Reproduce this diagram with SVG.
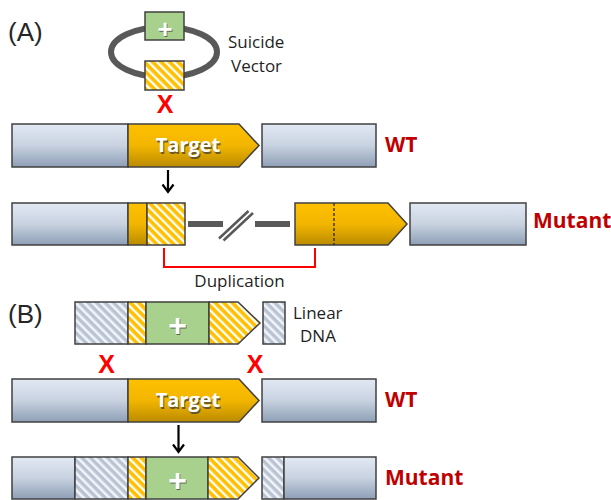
<svg xmlns="http://www.w3.org/2000/svg" width="611" height="500" viewBox="0 0 611 500">
<style>
.box{stroke:#404040;stroke-width:1.5}
.blue{fill:url(#gBlue)}
.yel{fill:url(#gYel)}
.hy{fill:url(#pHy)}
.hg{fill:url(#pHg)}
.grn{fill:#a9d18e}
.lbl{font-family:"Open Sans","Liberation Sans",sans-serif;font-size:17px;fill:#1f1f1f}
.red{font-family:"Open Sans","Liberation Sans",sans-serif;font-size:21px;font-weight:bold;fill:#c00000}
.panel{font-family:"Liberation Sans",Arial,sans-serif;font-size:26px;fill:#262626}
.x{font-family:"Liberation Sans",Arial,sans-serif;font-size:25px;font-weight:bold;fill:#ff0000;text-anchor:middle}
.tg{font-family:"Open Sans","Liberation Sans",sans-serif;font-size:20px;font-weight:bold;text-anchor:middle}
.pl{font-family:"Liberation Sans",Arial,sans-serif;font-weight:bold;text-anchor:middle}
.sh{fill:#3a3a3a;opacity:0.7}
.wh{fill:#ffffff}
.arr{stroke:#000;stroke-width:2.2;fill:none}
</style>
<defs>
<linearGradient id="gBlue" x1="0" y1="0" x2="0" y2="1">
<stop offset="0" stop-color="#e1e9f4"/>
<stop offset="0.5" stop-color="#c8d2e0"/>
<stop offset="1" stop-color="#8e9fb6"/>
</linearGradient>
<linearGradient id="gYel" x1="0" y1="0" x2="0" y2="1">
<stop offset="0" stop-color="#ffc000"/>
<stop offset="0.5" stop-color="#f2b600"/>
<stop offset="1" stop-color="#bb8b00"/>
</linearGradient>
<pattern id="pHy" width="6" height="6" patternUnits="userSpaceOnUse" patternTransform="rotate(-45)">
<rect width="6" height="6" fill="#ffc000"/>
<rect width="2.3" height="6" fill="#ffffff"/>
</pattern>
<pattern id="pHg" width="6" height="6" patternUnits="userSpaceOnUse" patternTransform="rotate(-45)">
<rect width="6" height="6" fill="#b8c3d4"/>
<rect width="2.6" height="6" fill="#f2f4f8"/>
</pattern>
</defs>

<text class="panel" x="8" y="41">(A)</text>
<text class="panel" x="8" y="323">(B)</text>

<g id="vector">
<ellipse cx="164" cy="52" rx="53" ry="25" fill="none" stroke="#595959" stroke-width="6"/>
<rect class="box grn" x="145" y="12" width="39" height="28"/>
<text class="pl sh" x="165.8" y="39" font-size="26">+</text>
<text class="pl wh" x="165" y="38" font-size="26">+</text>
<rect class="box hy" x="145" y="61" width="39" height="29"/>
<text class="lbl" x="228" y="48">Suicide</text>
<text class="lbl" x="231" y="72">Vector</text>
</g>
<text class="x" x="165" y="113">X</text>

<g id="wtA">
<rect class="box blue" x="12" y="124" width="116" height="43"/>
<polygon class="box yel" points="128,124 239,124 259,145.5 239,167 128,167"/>
<text class="tg sh" x="189" y="153.5">Target</text>
<text class="tg wh" x="188" y="152.3">Target</text>
<rect class="box blue" x="262" y="124" width="114" height="43"/>
<text class="red" x="385" y="152">WT</text>
</g>

<g id="mutantA">
<rect class="box blue" x="12" y="203" width="116" height="42"/>
<rect class="box yel" x="128" y="203" width="19" height="42"/>
<rect class="box hy" x="147" y="203" width="38" height="42"/>
<rect x="188" y="221" width="35" height="6" fill="#595959"/>
<line x1="219" y1="238.5" x2="248.5" y2="211" stroke="#595959" stroke-width="2.5"/>
<line x1="223.5" y1="240.5" x2="253" y2="213" stroke="#595959" stroke-width="2.5"/>
<rect x="255" y="221" width="35" height="6" fill="#595959"/>
<polygon class="box yel" points="295,203 388,203 407,224 388,245 295,245"/>
<line x1="334" y1="203" x2="334" y2="245" stroke="#1a1a1a" stroke-width="1.2" stroke-dasharray="3,2"/>
<rect class="box blue" x="410" y="203" width="116" height="42"/>
<text class="red" x="533" y="228">Mutant</text>
</g>

<g id="duplication">
<path d="M164 248 V267 H315 V248" fill="none" stroke="#ff0000" stroke-width="2"/>
<text class="lbl" x="239.5" y="287" text-anchor="middle">Duplication</text>
</g>

<g id="linearDNA">
<rect class="box hg" x="75" y="302" width="53" height="42" stroke="#6d6d6d"/>
<rect class="box hy" x="128" y="302" width="18" height="42"/>
<rect class="box grn" x="146" y="302" width="63" height="42"/>
<text class="pl sh" x="178.3" y="337" font-size="32">+</text>
<text class="pl wh" x="177.5" y="336" font-size="32">+</text>
<polygon class="box hy" points="209,302 238,302 260,323 238,344 209,344"/>
<rect class="box hg" x="263" y="302" width="22" height="42"/>
<text class="lbl" x="293" y="319">Linear</text>
<text class="lbl" x="300" y="342">DNA</text>
</g>
<text class="x" x="106.5" y="373">X</text>
<text class="x" x="255" y="373">X</text>

<g id="wtB">
<rect class="box blue" x="12" y="379" width="116" height="43"/>
<polygon class="box yel" points="128,379 239,379 259,400.5 239,422 128,422"/>
<text class="tg sh" x="189" y="408.5">Target</text>
<text class="tg wh" x="188" y="407.3">Target</text>
<rect class="box blue" x="262" y="379" width="114" height="43"/>
<text class="red" x="385" y="407">WT</text>
</g>

<g id="mutantB">
<rect class="box blue" x="12" y="457" width="63" height="42"/>
<rect class="box hg" x="75" y="457" width="53" height="42"/>
<rect class="box hy" x="128" y="457" width="18" height="42"/>
<rect class="box grn" x="146" y="457" width="62" height="42"/>
<text class="pl sh" x="178.3" y="492" font-size="32">+</text>
<text class="pl wh" x="177.5" y="491" font-size="32">+</text>
<polygon class="box hy" points="208,457 238,457 259,478 238,499 208,499"/>
<rect class="box hg" x="262" y="457" width="22" height="42"/>
<rect class="box blue" x="284" y="457" width="92" height="42"/>
<text class="red" x="385" y="485">Mutant</text>
</g>

<g id="connectors">
<path class="arr" d="M168 170 V191 M162.5 184.5 L168 192 L173.5 184.5"/>
<path class="arr" d="M178.5 425 V451 M173 444.5 L178.5 452 L184 444.5"/>
</g>
</svg>
